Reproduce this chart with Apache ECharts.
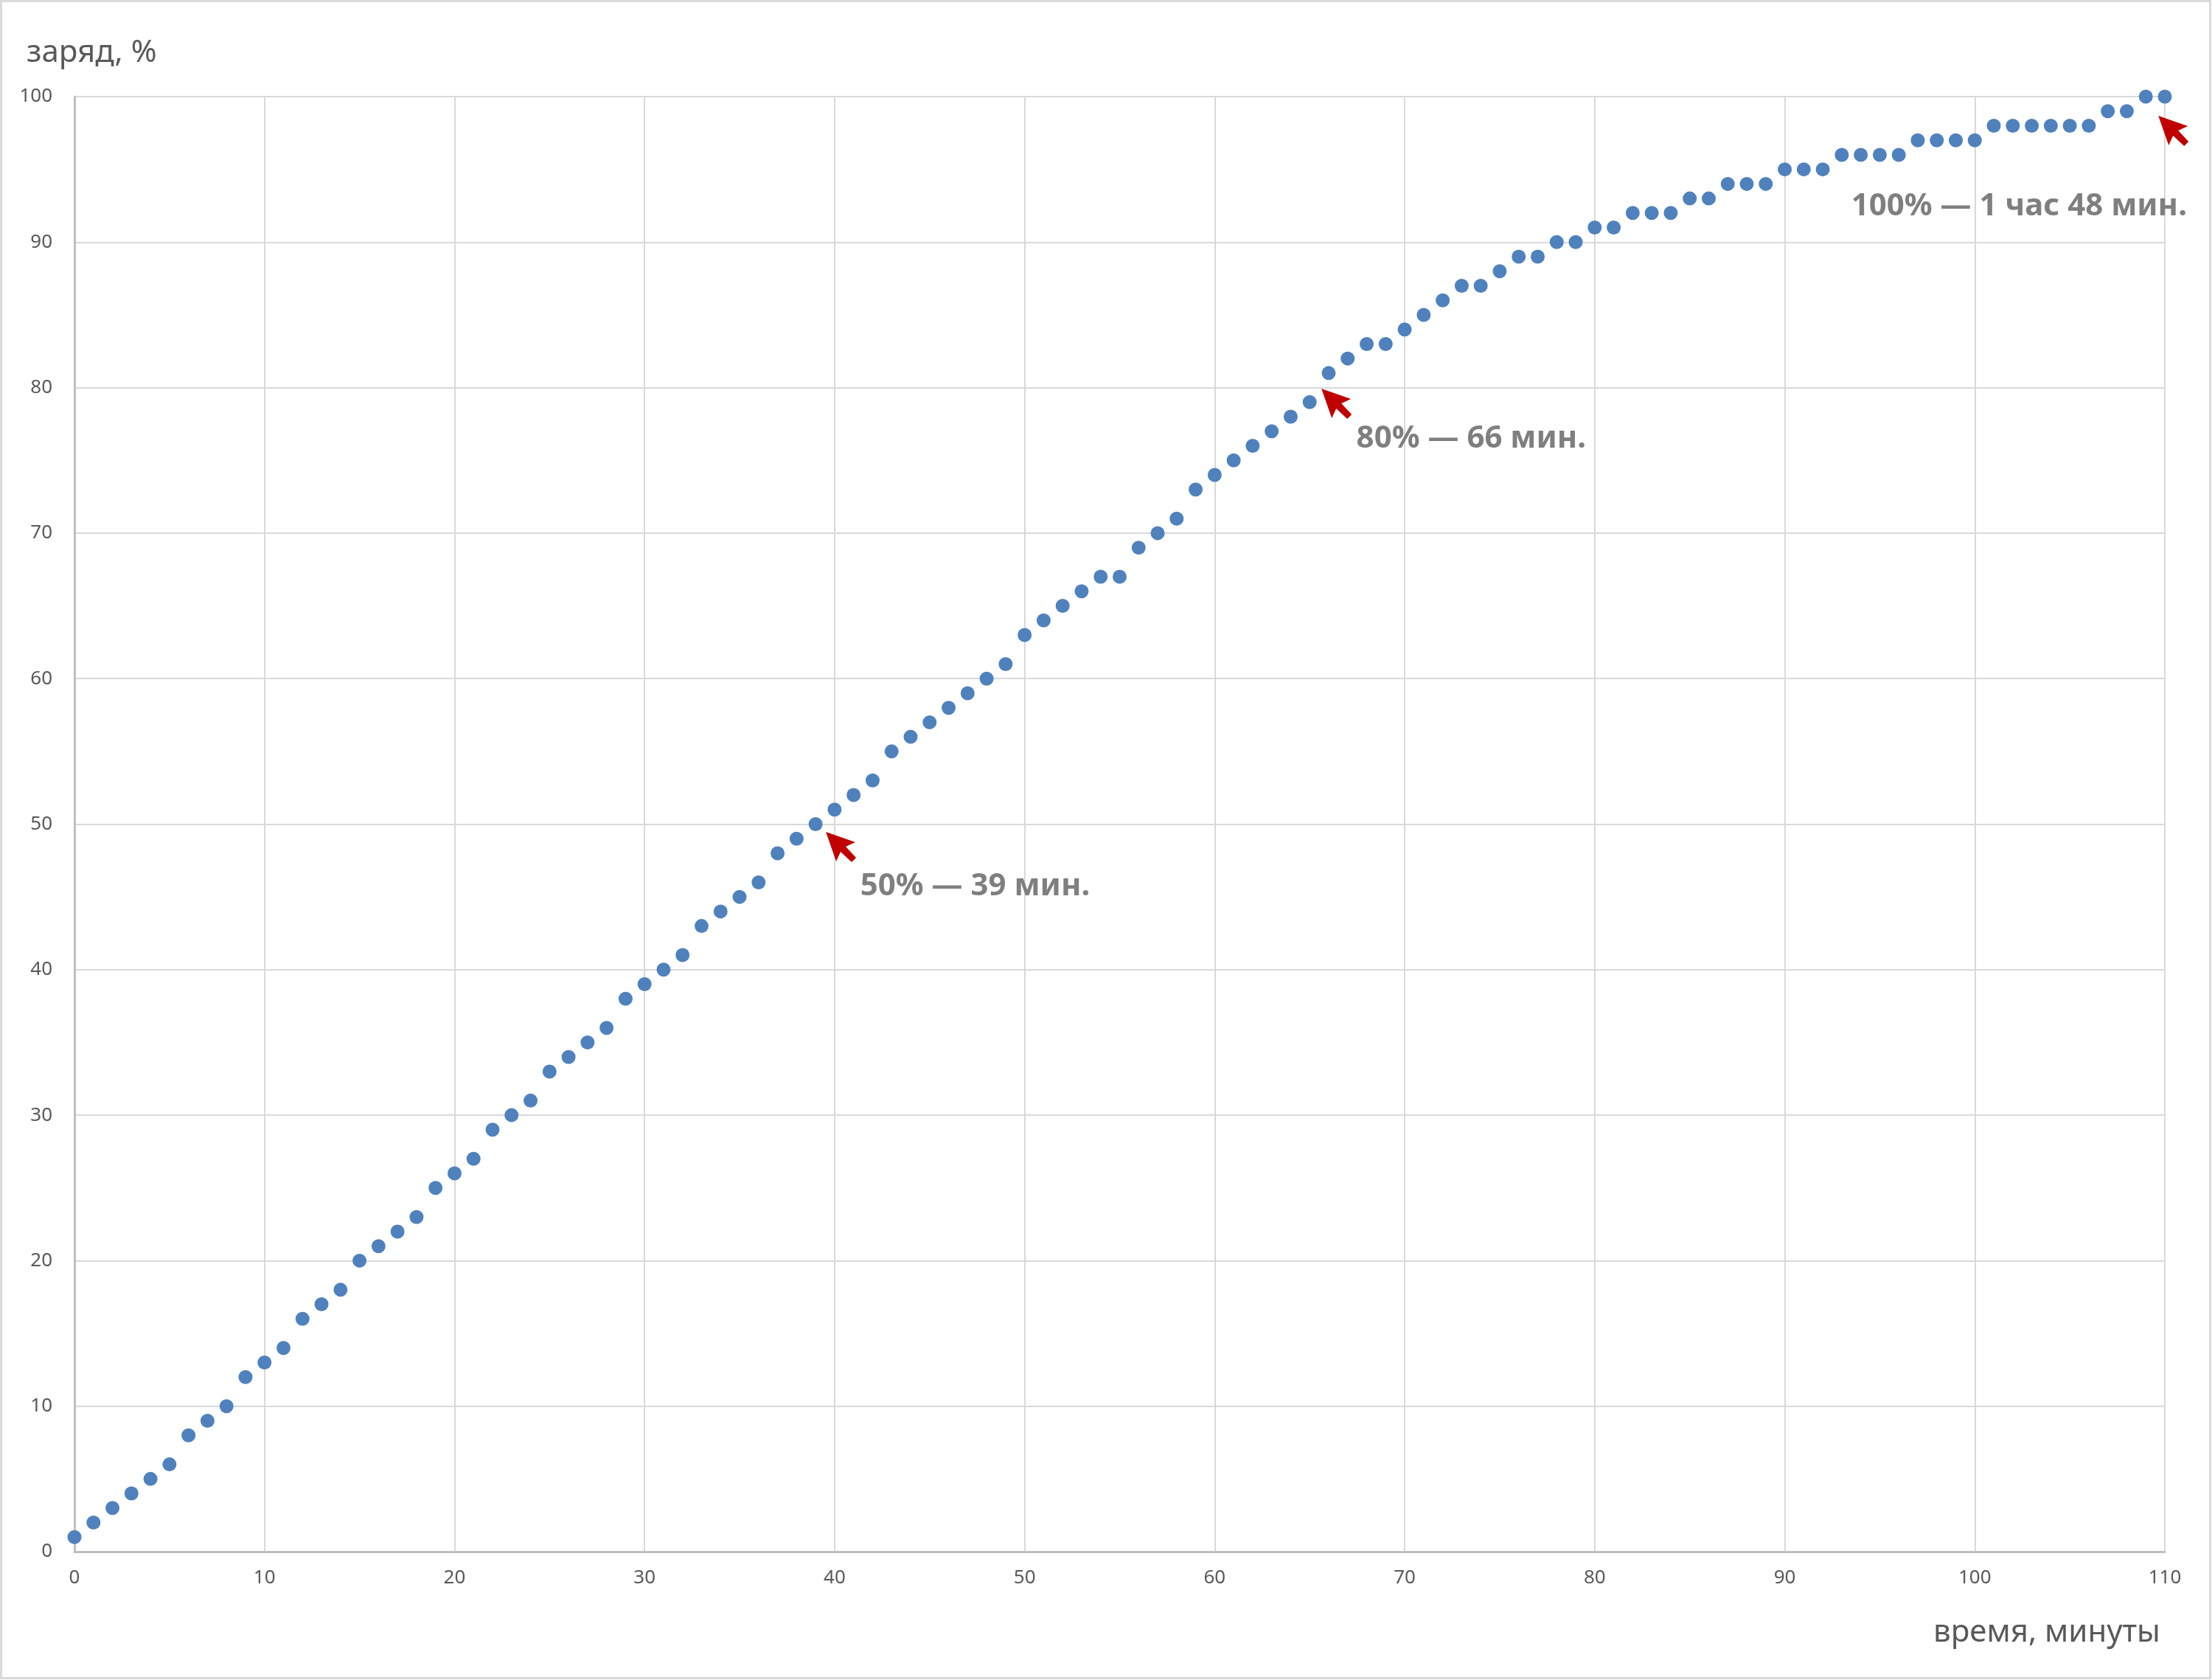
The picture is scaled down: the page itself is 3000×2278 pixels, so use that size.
<!DOCTYPE html>
<html>
<head>
<meta charset="utf-8">
<script src="https://cdn.jsdelivr.net/npm/echarts@6/dist/echarts.min.js"></script>
<style>
html,body{margin:0;padding:0;background:#fff;}
#chart{width:3000px;height:2278px;}
</style>
</head>
<body>
<div id="chart"></div>
<script>
// time, minutes
const minutes = [
  0,1,2,3,4,5,6,7,8,9,10,11,12,13,14,15,16,17,18,19,20,
  21,22,23,24,25,26,27,28,29,30,31,32,33,34,35,36,37,38,39,40,
  41,42,43,44,45,46,47,48,49,50,51,52,53,54,55,56,57,58,59,60,
  61,62,63,64,65,66,67,68,69,70,71,72,73,74,75,76,77,78,79,80,
  81,82,83,84,85,86,87,88,89,90,91,92,93,94,95,96,97,98,99,100,
  101,102,103,104,105,106,107,108,109,110
];
// charge, %
const charge = [
  1,2,3,4,5,6,8,9,10,12,13,14,16,17,18,20,21,22,23,25,26,
  27,29,30,31,33,34,35,36,38,39,40,41,43,44,45,46,48,49,50,51,
  52,53,55,56,57,58,59,60,61,63,64,65,66,67,67,69,70,71,73,74,
  75,76,77,78,79,81,82,83,83,84,85,86,87,87,88,89,89,90,90,91,
  91,92,92,92,93,93,94,94,94,95,95,95,96,96,96,96,97,97,97,97,
  98,98,98,98,98,98,99,99,100,100
];
// annotations
const noteTexts = ['50% — 39 мин.', '80% — 66 мин.', '100% — 1 час 48 мин.'];
const arrowTips = [[39.54, 49.47], [65.62, 79.93], [109.66, 98.68]];
const notePos = [[41.33, 45.72], [67.44, 76.48], [93.48, 92.45]];

const xTitle = 'время, минуты';
const yTitle = 'заряд, %';

const points = minutes.map((m, i) => [m, charge[i]]);
const FONT = 'Noto Sans';
const arrowPath = 'path://M0 0 L40 14 L27 20 L41 35 L35 41 L20 27 L14 40 Z';

const markData = [];
arrowTips.forEach(c => markData.push({
  coord: c,
  symbol: arrowPath,
  symbolSize: [41, 41],
  symbolKeepAspect: true,
  symbolOffset: [20.5, 20.5],
  itemStyle: {color: '#C00000', opacity: 1},
  label: {show: false}
}));
notePos.forEach((c, i) => markData.push({
  coord: c,
  symbol: 'circle',
  symbolSize: 1,
  itemStyle: {color: 'rgba(0,0,0,0)'},
  label: {
    show: true,
    position: 'right',
    distance: 0,
    formatter: noteTexts[i],
    color: '#7F7F7F',
    fontFamily: FONT,
    fontWeight: 'bold',
    fontSize: 42
  }
}));

const chart = echarts.init(document.getElementById('chart'));
chart.setOption({
  animation: false,
  backgroundColor: '#ffffff',
  grid: {left: 101, right: 64, top: 131, bottom: 174, containLabel: false},
  xAxis: {
    type: 'value', min: 0, max: 110, interval: 10,
    axisLine: {show: true, lineStyle: {color: '#BFBFBF', width: 3}},
    axisTick: {show: false},
    axisLabel: {color: '#595959', fontFamily: FONT, fontSize: 26, margin: 23},
    splitLine: {show: true, lineStyle: {color: '#D9D9D9', width: 2}}
  },
  yAxis: {
    type: 'value', min: 0, max: 100, interval: 10,
    axisLine: {show: true, lineStyle: {color: '#BFBFBF', width: 3}},
    axisTick: {show: false},
    axisLabel: {color: '#595959', fontFamily: FONT, fontSize: 26, margin: 30},
    splitLine: {show: true, lineStyle: {color: '#D9D9D9', width: 2}}
  },
  graphic: [
    {type: 'rect', silent: true, z: -1,
     shape: {x: 1.5, y: 1.5, width: 2996, height: 2274},
     style: {fill: 'none', stroke: '#D9D9D9', lineWidth: 3}},
    {type: 'text', x: 36, y: 72,
     style: {text: yTitle, fill: '#595959', font: '42px "Noto Sans"', textAlign: 'left', textVerticalAlign: 'middle', verticalAlign: 'middle'}},
    {type: 'text', x: 2930, y: 2214,
     style: {text: xTitle, fill: '#595959', font: '42px "Noto Sans"', textAlign: 'right', textVerticalAlign: 'middle', verticalAlign: 'middle'}}
  ],
  series: [{
    type: 'scatter',
    data: points,
    symbol: 'circle',
    symbolSize: 19,
    itemStyle: {color: '#4F81BD', opacity: 1},
    markPoint: {
      silent: true,
      animation: false,
      data: markData
    }
  }]
});
</script>
</body>
</html>
